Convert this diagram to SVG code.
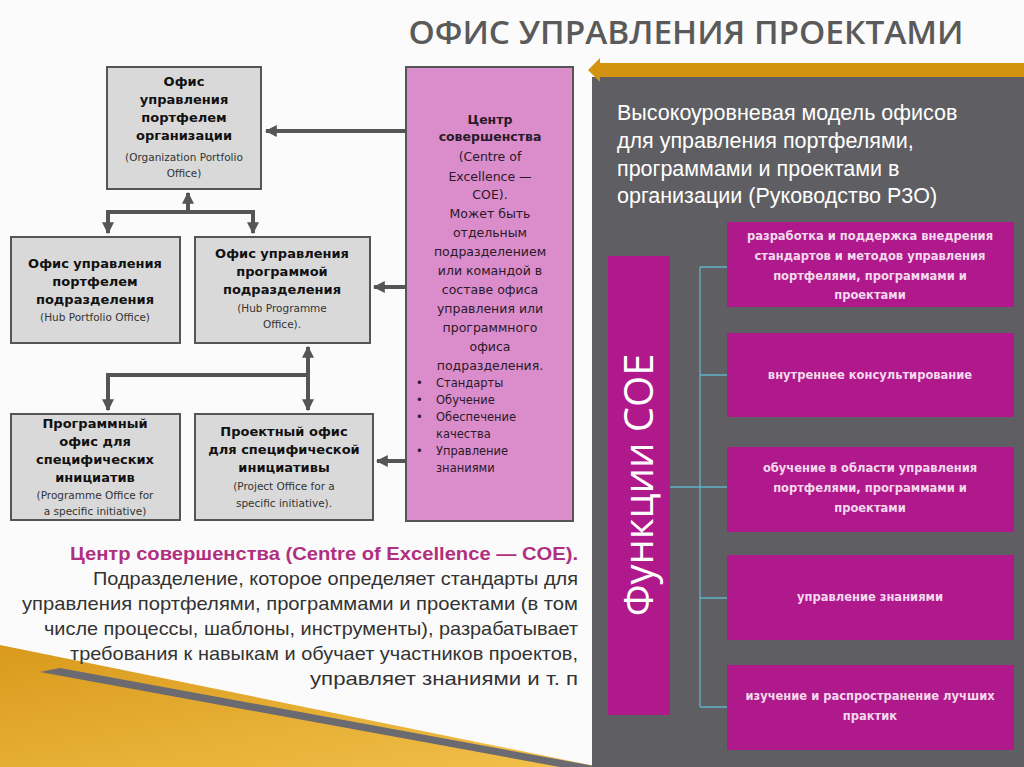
<svg xmlns="http://www.w3.org/2000/svg" width="1024" height="767" viewBox="0 0 1024 767">
<defs>
<style>
.box{fill:#d9d9d9;stroke:#555;stroke-width:2}
.b{font-family:"DejaVu Sans",sans-serif;font-weight:bold;font-size:13px;fill:#111;text-anchor:middle}
.e{font-family:"DejaVu Sans",sans-serif;font-size:10.5px;fill:#333;text-anchor:middle}
.c{font-family:"DejaVu Sans",sans-serif;font-size:12.5px;fill:#2a1a28;text-anchor:middle}
.l{font-family:"DejaVu Sans",sans-serif;font-size:11.5px;fill:#2a1a28}
.conn{stroke:#555;stroke-width:4;fill:none}
.fbox{fill:#b0198c}
.ft{font-family:"DejaVu Sans",sans-serif;font-weight:bold;font-size:11.5px;fill:#f4d9ee;text-anchor:middle}
.teal{stroke:#5fb3c4;stroke-width:1.3;fill:none}
.pt{font-family:"Liberation Sans",sans-serif;font-size:21.5px;fill:#fff}
.bt{font-family:"Liberation Sans",sans-serif;font-size:19px;fill:#333;text-anchor:end}
</style>
<marker id="ah" viewBox="0 0 10 10" refX="9" refY="5" markerWidth="3" markerHeight="3" orient="auto"><path d="M0,0 L10,5 L0,10 z" fill="#555"/></marker>
<linearGradient id="gold" x1="0" y1="0" x2="1" y2="1"><stop offset="0" stop-color="#d99a1c"/><stop offset="1" stop-color="#f2c04a"/></linearGradient>
</defs>
<rect width="1024" height="767" fill="#fbfbfb"/>
<polygon points="0,645 0,767 600,767" fill="url(#gold)"/>
<polygon points="60,668 600,767 560,767 40,672" fill="#6a6a70"/>
<text x="686" y="44" font-family="'Open Sans',sans-serif" font-weight="600" font-size="33" fill="#5a5a5a" text-anchor="middle" textLength="555" lengthAdjust="spacingAndGlyphs">ОФИС УПРАВЛЕНИЯ ПРОЕКТАМИ</text>
<rect x="592" y="77" width="432" height="690" fill="#5f5f63"/>
<polygon points="588,70 600,58 600,63 1024,63 1024,77 600,77 600,82" fill="#d4930f"/>
<text class="pt"><tspan x="617" y="120">Высокоуровневая модель офисов</tspan><tspan x="617" y="148">для управления портфелями,</tspan><tspan x="617" y="176">программами и проектами в</tspan><tspan x="617" y="203">организации (Руководство P3O)</tspan></text>
<g id="connectors">
<path class="conn" d="M406,131 H266" marker-end="url(#ah)"/>
<path class="conn" d="M406,287 H374" marker-end="url(#ah)"/>
<path class="conn" d="M406,461 H377" marker-end="url(#ah)"/>
<path class="conn" d="M188,212 V193" marker-end="url(#ah)"/>
<path class="conn" d="M108,212 H253"/>
<path class="conn" d="M108,210 V233" marker-end="url(#ah)"/>
<path class="conn" d="M253,210 V233" marker-end="url(#ah)"/>
<path class="conn" d="M308,375 V347" marker-end="url(#ah)"/>
<path class="conn" d="M308,375 V410" marker-end="url(#ah)"/>
<path class="conn" d="M108,375 H308"/>
<path class="conn" d="M108,373 V410" marker-end="url(#ah)"/>
<path class="teal" d="M670,487 H700 M700,267 V707 M700,267 H727 M700,375 H727 M700,487 H727 M700,598 H727 M700,707 H727"/>
</g>
<g id="org"><rect class="box" x="107" y="67" width="154" height="122"/>
<text class="b"><tspan x="184" y="86">Офис</tspan><tspan x="184" y="104">управления</tspan><tspan x="184" y="122">портфелем</tspan><tspan x="184" y="140">организации</tspan></text>
<text class="e"><tspan x="184" y="161">(Organization Portfolio</tspan><tspan x="184" y="177">Office)</tspan></text></g>
<g id="hubport"><rect class="box" x="11" y="237" width="169" height="106"/>
<text class="b"><tspan x="95" y="268">Офис управления</tspan><tspan x="95" y="286">портфелем</tspan><tspan x="95" y="304">подразделения</tspan></text>
<text class="e"><tspan x="95" y="321">(Hub Portfolio Office)</tspan></text></g>
<g id="hubprog"><rect class="box" x="195" y="237" width="175" height="106"/>
<text class="b"><tspan x="282" y="258">Офис управления</tspan><tspan x="282" y="276">программой</tspan><tspan x="282" y="294">подразделения</tspan></text>
<text class="e"><tspan x="282" y="312">(Hub Programme</tspan><tspan x="282" y="328">Office).</tspan></text></g>
<g id="progspec"><rect class="box" x="11" y="414" width="169" height="106"/>
<text class="b"><tspan x="95" y="428">Программный</tspan><tspan x="95" y="446">офис для</tspan><tspan x="95" y="464">специфических</tspan><tspan x="95" y="482">инициатив</tspan></text>
<text class="e"><tspan x="95" y="499">(Programme Office for</tspan><tspan x="95" y="515">a specific initiative)</tspan></text></g>
<g id="projspec"><rect class="box" x="195" y="414" width="178" height="106"/>
<text class="b"><tspan x="284" y="436">Проектный офис</tspan><tspan x="284" y="454">для специфической</tspan><tspan x="284" y="472">инициативы</tspan></text>
<text class="e"><tspan x="284" y="490">(Project Office for a</tspan><tspan x="284" y="507">specific initiative).</tspan></text></g>
<g id="coe"><rect x="406" y="67" width="167" height="454" fill="#da8ccb" stroke="#555" stroke-width="2"/>
<text class="c"><tspan x="490" y="124" font-weight="bold">Центр</tspan><tspan x="490" y="141" font-weight="bold">совершенства</tspan><tspan x="490" y="161">(Centre of</tspan><tspan x="490" y="181">Excellence —</tspan><tspan x="490" y="199">COE).</tspan><tspan x="490" y="218">Может быть</tspan><tspan x="490" y="237">отдельным</tspan><tspan x="490" y="256">подразделением</tspan><tspan x="490" y="275">или командой в</tspan><tspan x="490" y="294">составе офиса</tspan><tspan x="490" y="313">управления или</tspan><tspan x="490" y="332">программного</tspan><tspan x="490" y="351">офиса</tspan><tspan x="490" y="370">подразделения.</tspan></text>
<text class="l"><tspan x="416" y="387">•</tspan><tspan x="436" y="387">Стандарты</tspan><tspan x="416" y="404">•</tspan><tspan x="436" y="404">Обучение</tspan><tspan x="416" y="421">•</tspan><tspan x="436" y="421">Обеспечение</tspan><tspan x="436" y="438">качества</tspan><tspan x="416" y="455">•</tspan><tspan x="436" y="455">Управление</tspan><tspan x="436" y="472">знаниями</tspan></text></g>
<g id="funcbar"><rect x="608" y="256" width="62" height="459" fill="#b0198c"/>
<text transform="translate(653,485) rotate(-90)" font-family="'Open Sans',sans-serif" font-size="40" fill="#fff" text-anchor="middle">Функции COE</text></g>
<g id="f1"><rect class="fbox" x="727" y="222" width="287" height="85"/><text class="ft"><tspan x="870" y="240">разработка и поддержка внедрения</tspan><tspan x="870" y="260">стандартов и методов управления</tspan><tspan x="870" y="280">портфелями, программами и</tspan><tspan x="870" y="299">проектами</tspan></text></g>
<g id="f2"><rect class="fbox" x="727" y="333" width="287" height="84"/><text class="ft" x="870" y="379">внутреннее консультирование</text></g>
<g id="f3"><rect class="fbox" x="727" y="447" width="287" height="85"/><text class="ft"><tspan x="870" y="472">обучение в области управления</tspan><tspan x="870" y="492">портфелями, программами и</tspan><tspan x="870" y="512">проектами</tspan></text></g>
<g id="f4"><rect class="fbox" x="727" y="555" width="287" height="85"/><text class="ft" x="870" y="601">управление знаниями</text></g>
<g id="f5"><rect class="fbox" x="727" y="665" width="287" height="85"/><text class="ft"><tspan x="870" y="700">изучение и распространение лучших</tspan><tspan x="870" y="720">практик</tspan></text></g>
<text class="bt" x="578" y="560" font-weight="bold" style="fill:#b0307f" textLength="508" lengthAdjust="spacingAndGlyphs">Центр совершенства (Centre of Excellence — COE).</text>
<text class="bt" x="578" y="585" textLength="485" lengthAdjust="spacingAndGlyphs">Подразделение, которое определяет стандарты для</text>
<text class="bt" x="578" y="610" textLength="556" lengthAdjust="spacingAndGlyphs">управления портфелями, программами и проектами (в том</text>
<text class="bt" x="578" y="635" textLength="534" lengthAdjust="spacingAndGlyphs">числе процессы, шаблоны, инструменты), разрабатывает</text>
<text class="bt" x="578" y="660" textLength="508" lengthAdjust="spacingAndGlyphs">требования к навыкам и обучает участников проектов,</text>
<text class="bt" x="578" y="685" textLength="268" lengthAdjust="spacingAndGlyphs">управляет знаниями и т. п</text>
</svg>
